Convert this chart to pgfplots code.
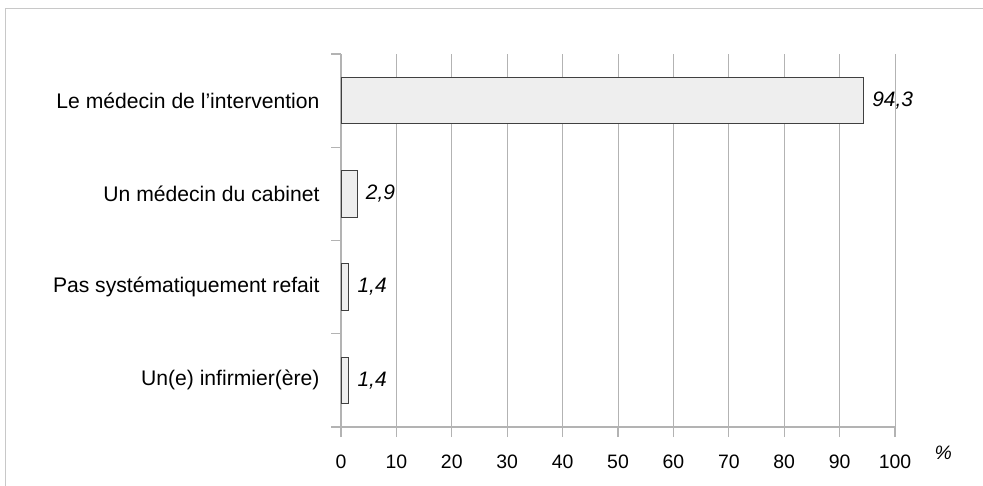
\documentclass[border=0pt]{standalone}
\usepackage{pgfplots}
\pgfplotsset{compat=1.18}
\usepackage{fontspec}
\setmainfont{Liberation Sans}
\definecolor{gridgray}{HTML}{B3B3B3}
\definecolor{framegray}{HTML}{C8C8C8}
\definecolor{barfill}{HTML}{EEEEEE}
\definecolor{baredge}{HTML}{404040}
\pgfkeys{/pgf/number format/assume math mode=true}
\begin{document}
\begin{tikzpicture}
\useasboundingbox (0,0) rectangle (983bp,-486bp);
\draw[framegray, line width=1bp] (5bp,-486bp) -- (5bp,-8bp) -- (983bp,-8bp);
\begin{axis}[
  at={(341bp,-427bp)}, anchor=south west,
  scale only axis, width=554bp, height=373bp,
  xmin=0, xmax=100, ymin=-0.5, ymax=3.5,
  axis x line=bottom, axis y line=left,
  axis line style={-, gridgray, line width=1.2bp},
  tick align=outside,
  xtick={0,10,...,100},
  major tick length=10bp,
  tick style={gridgray, line width=1.2bp},
  xmajorgrids, grid style={gridgray, line width=1bp},
  ytick={-0.5,0.5,1.5,2.5,3.5}, yticklabels={},
  extra y ticks={0,1,2,3},
  extra y tick labels={Un(e) infirmier(ère),Pas systématiquement refait,Un médecin du cabinet,Le médecin de l’intervention},
  extra y tick style={major tick length=0pt, tick style={draw=none}, yticklabel style={font=\fontsize{21.2}{25}\selectfont, xshift=-18bp}},
  /pgf/number format/assume math mode=true,
  ticklabel style={font=\fontsize{19.5}{23}\selectfont},
  xticklabel style={yshift=-14bp},
  xlabel={\%},
  x label style={at={(axis description cs:1,0)}, anchor=north west, xshift=36bp, yshift=-15bp, font=\fontsize{19.5}{23}\selectfont\itshape},
  xbar, bar width=0.5,
  nodes near coords,
  nodes near coords style={anchor=west, xshift=5bp, font=\fontsize{21}{24}\selectfont\itshape,
    /pgf/number format/.cd, fixed, fixed zerofill, precision=1, use comma, assume math mode=true},
  clip=false,
]
\addplot[fill=barfill, draw=baredge, line width=1bp] coordinates {
  (1.4,0) (1.4,1) (2.9,2) (94.3,3)
};
\end{axis}
\end{tikzpicture}
\end{document}
